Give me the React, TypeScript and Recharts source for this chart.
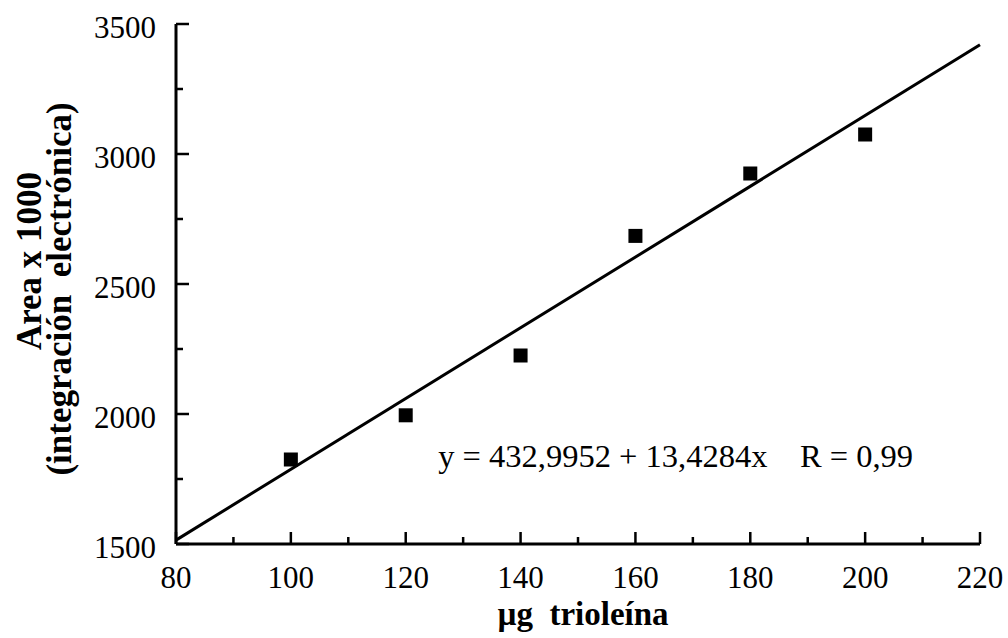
import { ComposedChart, Line, Scatter, XAxis, YAxis, ReferenceDot } from 'recharts'

// µg trioleína vs area (x 1000)
const xValues = [100, 120, 140, 160, 180, 200]
const yValues = [1825, 1995, 2225, 2685, 2925, 3075]

// regression line as drawn, read at the axis ends
const fitX = [80, 220]
const fitY = [1515, 3420]

const xTicks = [80, 90, 100, 110, 120, 130, 140, 150, 160, 170, 180, 190, 200, 210, 220]
const xLabels = [80, 100, 120, 140, 160, 180, 200, 220]
const yTicks = [1500, 1750, 2000, 2250, 2500, 2750, 3000, 3250, 3500]
const yLabels = [1500, 2000, 2500, 3000, 3500]

const points = xValues.map((x, i) => ({ x, y: yValues[i] }))
const fit = fitX.map((x, i) => ({ x, y: fitY[i] }))

const FONT = '"Liberation Serif", "Times New Roman", serif'
const MARGIN = 8
const NB = '\u00A0'

const XTick = (props: any) => {
  const { x, y, payload } = props
  const major = xLabels.includes(payload.value)
  const axisY = y - MARGIN
  return (
    <g>
      <line x1={x} x2={x} y1={axisY} y2={axisY - (major ? 12 : 7)} stroke="#000" strokeWidth={2.5} />
      {major && (
        <text x={x} y={axisY + 44} textAnchor="middle" fontFamily={FONT} fontSize={31} fill="#000">
          {payload.value}
        </text>
      )}
    </g>
  )
}

const YTick = (props: any) => {
  const { x, y, payload } = props
  const major = yLabels.includes(payload.value)
  const axisX = x + MARGIN
  return (
    <g>
      <line x1={axisX} x2={axisX + (major ? 13 : 7)} y1={y} y2={y} stroke="#000" strokeWidth={2.5} />
      {major && (
        <text x={axisX - 20} y={y + 14} textAnchor="end" fontFamily={FONT} fontSize={31} fill="#000">
          {payload.value}
        </text>
      )}
    </g>
  )
}

const YTitle = (props: any) => {
  const { viewBox } = props
  const cy = viewBox.y + viewBox.height / 2
  const x1 = viewBox.x - 35
  const x2 = viewBox.x - 5
  return (
    <g fontFamily={FONT} fontSize={35} fontWeight="bold" fill="#000">
      <text x={x1} y={cy - 23} textAnchor="middle" transform={`rotate(-90, ${x1}, ${cy - 23})`}>
        Area x 1000
      </text>
      <text x={x2} y={cy + 5} textAnchor="middle" transform={`rotate(-90, ${x2}, ${cy + 5})`}>
        {`(integración${NB}${NB}electrónica)`}
      </text>
    </g>
  )
}

const XTitle = (props: any) => {
  const { viewBox } = props
  const cx = viewBox.x + viewBox.width / 2
  return (
    <text x={cx + 5} y={viewBox.y + 81} textAnchor="middle" fontFamily={FONT} fontSize={33} fontWeight="bold" fill="#000">
      {`µg${NB}${NB}trioleína`}
    </text>
  )
}

const Square = (props: any) => {
  const { cx, cy } = props
  return <rect x={cx - 7} y={cy - 7} width={14} height={14} fill="#000" />
}

export default function App() {
  return (
    <div style={{ position: 'absolute', left: 0, top: 0, width: 1008, height: 638, background: '#fff' }}>
      <ComposedChart width={1008} height={638} margin={{ top: 24, right: 28, bottom: 34, left: 76 }}>
        <XAxis
          type="number"
          dataKey="x"
          domain={[80, 220]}
          ticks={xTicks}
          interval={0}
          tickSize={0}
          tickMargin={MARGIN}
          tickLine={false}
          height={60}
          axisLine={{ stroke: '#000', strokeWidth: 3 }}
          tick={<XTick />}
          label={<XTitle />}
        />
        <YAxis
          type="number"
          dataKey="y"
          domain={[1500, 3500]}
          ticks={yTicks}
          interval={0}
          tickSize={0}
          tickMargin={MARGIN}
          tickLine={false}
          width={100}
          axisLine={{ stroke: '#000', strokeWidth: 3 }}
          tick={<YTick />}
          label={<YTitle />}
        />
        <Line data={fit} dataKey="y" stroke="#000" strokeWidth={3} dot={false} isAnimationActive={false} />
        <Scatter data={points} dataKey="y" fill="#000" shape={<Square />} isAnimationActive={false} />
        <ReferenceDot
          x={167}
          y={1840}
          r={0}
          label={{ value: `y = 432,9952 + 13,4284x${NB}${NB}${NB}${NB}R = 0,99`, position: 'center', fontFamily: FONT, fontSize: 32.5, fill: '#000' }}
        />
      </ComposedChart>
    </div>
  )
}
